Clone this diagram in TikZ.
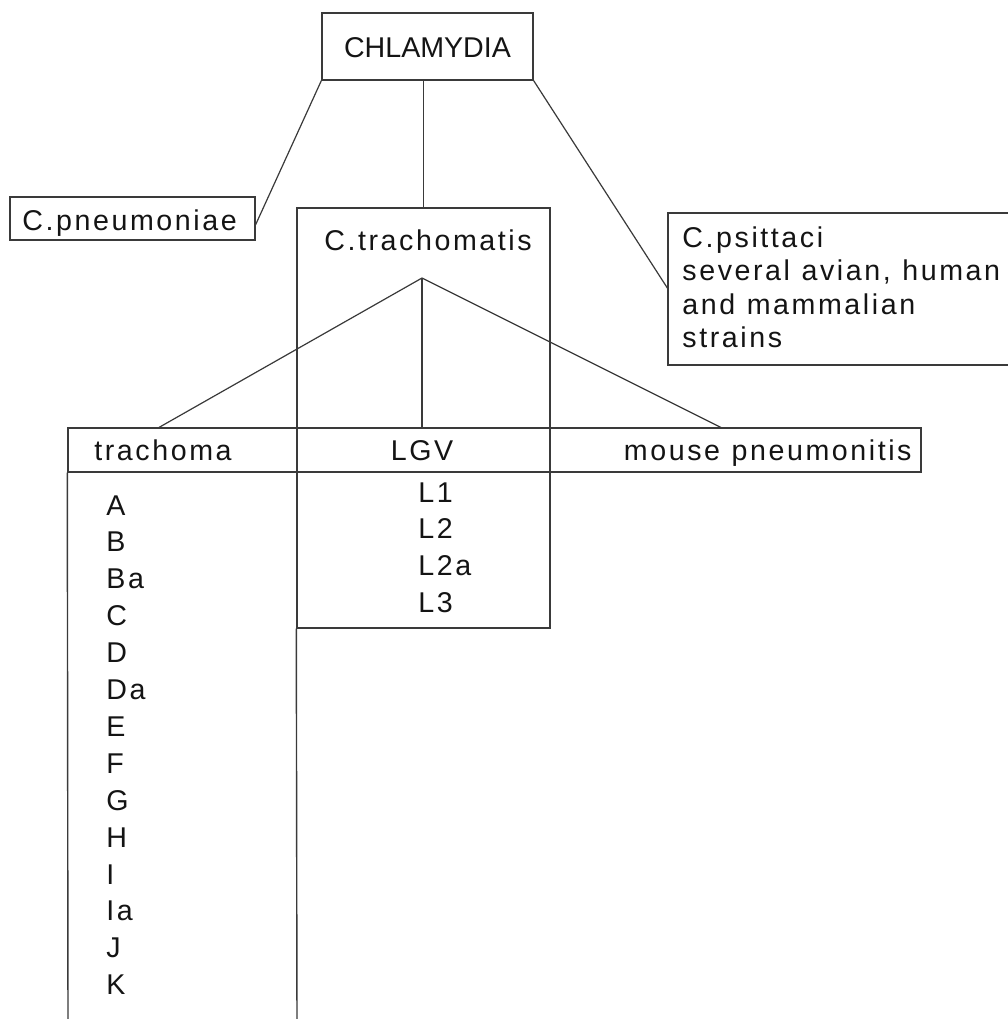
\documentclass[tikz,border=0pt]{standalone}
\usepackage{fontspec}
\setmainfont{Liberation Sans}
\newfontfamily\spaced[LetterSpace=9,WordSpace=1.1]{Liberation Sans}
\definecolor{ink}{HTML}{141414}
\definecolor{edge}{HTML}{3A3A3A}
\begin{document}
\begin{tikzpicture}[x=0.5pt,y=-0.5pt,
  every node/.style={inner sep=0pt, text=ink},
  txt/.style={font=\spaced\fontsize{14.3}{17}\selectfont},
  plain/.style={font=\fontsize{14.3}{17}\selectfont},
  frame/.style={draw=edge, line width=0.7pt},
  link/.style={draw=edge, line width=0.6pt}]
\useasboundingbox[fill=white] (0,0) rectangle (1008,1019);

% boxes
\node[frame, minimum width=105.5pt, minimum height=33.5pt] (chl) at (427.5,46.5) {};
\node[frame, minimum width=122.5pt, minimum height=21.5pt] (pne) at (132.5,218.5) {};
\node[frame, minimum width=126.5pt, minimum height=210pt] (tra) at (423.5,418) {};
\node[frame, minimum width=426.5pt, minimum height=22pt] (hdr) at (494.5,450) {};
\coordinate (colL) at (68,1030);
\coordinate (colR) at (297,1030);
\draw[frame] (hdr.south west) -- (colL);
\draw[frame] (tra.south west) -- (colR);
\coordinate (psiTR) at (1020,213);
\coordinate (psiBR) at (1020,365);
\coordinate (psiW) at (668,289);
\draw[frame] (psiTR) -- (668,213) -- (668,365) -- (psiBR);

% connectors
\draw[link] (chl.south west) -- ([yshift=-3pt]pne.east);
\draw[link] (chl.south -| tra.north) -- (tra.north);
\draw[link] (chl.south east) -- (psiW);
\coordinate (apex) at (422,278);
\coordinate (tkA) at (158,428);
\coordinate (lgvA) at (422,428);
\coordinate (mpA) at (722,428);
\draw[link] (apex) -- (tkA);
\draw[link] (apex) -- (lgvA);
\draw[link] (apex) -- (mpA);

% texts
\node[plain, anchor=base] (tChl) at (427.5,57) {CHLAMYDIA};
\node[txt, anchor=base west] (tPne) at (22,230) {C.pneumoniae};
\node[txt, anchor=base] (tTra) at (428,250) {C.trachomatis};
\node[txt, anchor=base west] (tPsi1) at (682,247) {C.psittaci};
\node[txt, anchor=base west] (tPsi2) at (682,280.5) {several avian, human};
\node[txt, anchor=base west] (tPsi3) at (682,314) {and mammalian};
\node[txt, anchor=base west] (tPsi4) at (682,347.5) {strains};

\node[txt, anchor=base] (hTr) at (163,460) {trachoma};
\node[txt, anchor=base] (hLgv) at (422,460) {LGV};
\node[txt, anchor=base east] (hMp) at (912,460) {mouse pneumonitis};

\foreach \t [count=\i from 0] in {L1,L2,L2a,L3}
  \node[txt, anchor=base west] (lgv\i) at (418,{502+36.7*\i}) {\t};

\foreach \t [count=\i from 0] in {A,B,Ba,C,D,Da,E,F,G,H,I,Ia,J,K}
  \node[txt, anchor=base west] (ser\i) at (106,{515+36.9*\i}) {\t};
\end{tikzpicture}
\end{document}
